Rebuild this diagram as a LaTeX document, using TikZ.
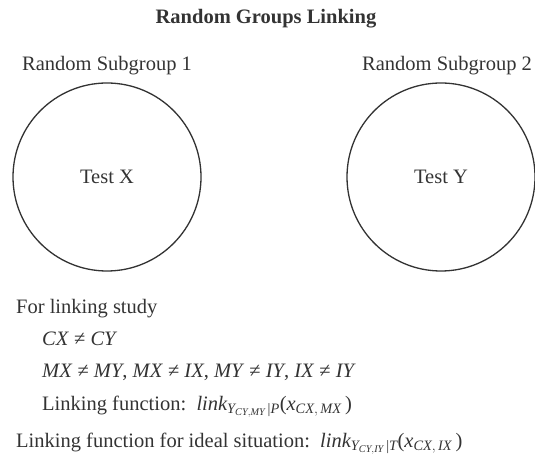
\documentclass[tikz,border=0pt]{standalone}
\usepackage{amsmath}
\usepackage{fontspec}
\setmainfont{Liberation Serif}
\definecolor{ink}{HTML}{333333}
\newcommand{\mi}[1]{\textit{#1}}
\begin{document}
\begin{tikzpicture}[x=1pt,y=-1pt,
  txt/.style={font=\fontsize{20.5}{24}\selectfont, text=ink, inner sep=0pt},
  circ/.style={circle, draw=ink, line width=1.3pt, minimum size=188pt, inner sep=0pt},
  every node/.append style={txt}]
\useasboundingbox (0,0) rectangle (535,454);
\node[anchor=base, font=\fontsize{20.5}{24}\selectfont\bfseries] (title) at (266,24) {Random Groups Linking};
\node[anchor=base west] (sg1) at (22,71) {Random Subgroup 1};
\node[anchor=base west] (sg2) at (362,71) {Random Subgroup 2};
\node[circ] (c1) at (107,177) {};
\node[circ] (c2) at (441,177) {};
\node (tx) at (c1) {Test X};
\node (ty) at (c2) {Test Y};
\node[anchor=base west] (l1) at (16,313) {For linking study};
\node[anchor=base west] (l2) at (42,345) {\mi{CX} ≠ \mi{CY}};
\node[anchor=base west] (l3) at (42,377) {\mi{MX} ≠ \mi{MY}, \mi{MX} ≠ \mi{IX}, \mi{MY} ≠ \mi{IY}, \mi{IX} ≠ \mi{IY}};
\node[anchor=base west] (l4) at (42,410) {Linking function:\ \ $\mi{link}_{\mi{Y}_{\mi{CY},\mi{MY}}\,\text{|}\mi{P}}\text{(}\mi{x}_{\mi{CX},\,\mi{MX}}\,\text{)}$};
\node[anchor=base west] (l5) at (16,447) {Linking function for ideal situation:\ \ $\mi{link}_{\mi{Y}_{\mi{CY},\mi{IY}}\,\text{|}\mi{T}}\text{(}\mi{x}_{\mi{CX},\,\mi{IX}}\,\text{)}$};
\end{tikzpicture}
\end{document}
